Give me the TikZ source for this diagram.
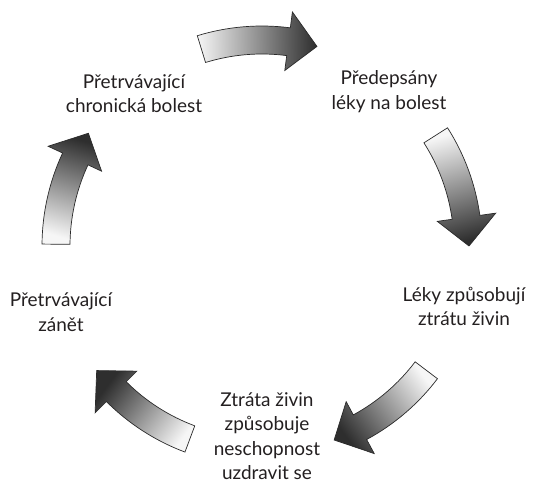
\documentclass[tikz,border=0pt]{standalone}
\usepackage{fontspec}
\setmainfont{Lato}
\definecolor{txt}{HTML}{231F20}
\definecolor{dk}{HTML}{2E2E2E}
\definecolor{lt}{HTML}{F6F6F6}
\definecolor{edge}{HTML}{2A2A2A}
\tikzset{
  lbl/.style={align=center, font=\fontsize{19}{24.5}\selectfont, text=txt, inner sep=0pt},
  cyc/.style={draw=edge, line width=0.7pt, line join=miter, top color=dk, bottom color=lt, shading angle=#1},
}
\newcommand\cycarrow[1]{%
  \pgfmathsetmacro\shang{#1-180}%
  \pgfmathsetmacro\aT{#1+16.5}%
  \pgfmathsetmacro\aB{#1-8}%
  \pgfmathsetmacro\aP{#1-16}%
  \path[cyc=\shang] (\aT:192pt) -- (\aT:220pt)
    arc[start angle=\aT, end angle=\aB, radius=220pt] -- (\aB:236pt) -- (\aP:207pt)
    -- (\aB:177pt) -- (\aB:192pt)
    arc[start angle=\aB, end angle=\aT, radius=192pt] -- cycle;}
\begin{document}
\begin{tikzpicture}[x=1pt,y=1pt]
\useasboundingbox (0,0) rectangle (533,484);
\begin{scope}[shift={(262,238)}]
  \cycarrow{90.6}
  \cycarrow{16}
  \cycarrow{-53.6}
  \cycarrow{-127}
  \cycarrow{163}
\end{scope}
\node[lbl] (t1) at (134,390.5) {Přetrvávající\\chronická bolest};
\node[lbl] (t2) at (389,392.5) {Předepsány\\léky na bolest};
\node[lbl] (t3) at (464,177.5) {Léky způsobují\\ztrátu živin};
\node[lbl] (t4) at (267,48) {Ztráta živin\\způsobuje\\neschopnost\\uzdravit se};
\node[lbl] (t5) at (61,172) {Přetrvávající\\zánět};
\end{tikzpicture}
\end{document}
